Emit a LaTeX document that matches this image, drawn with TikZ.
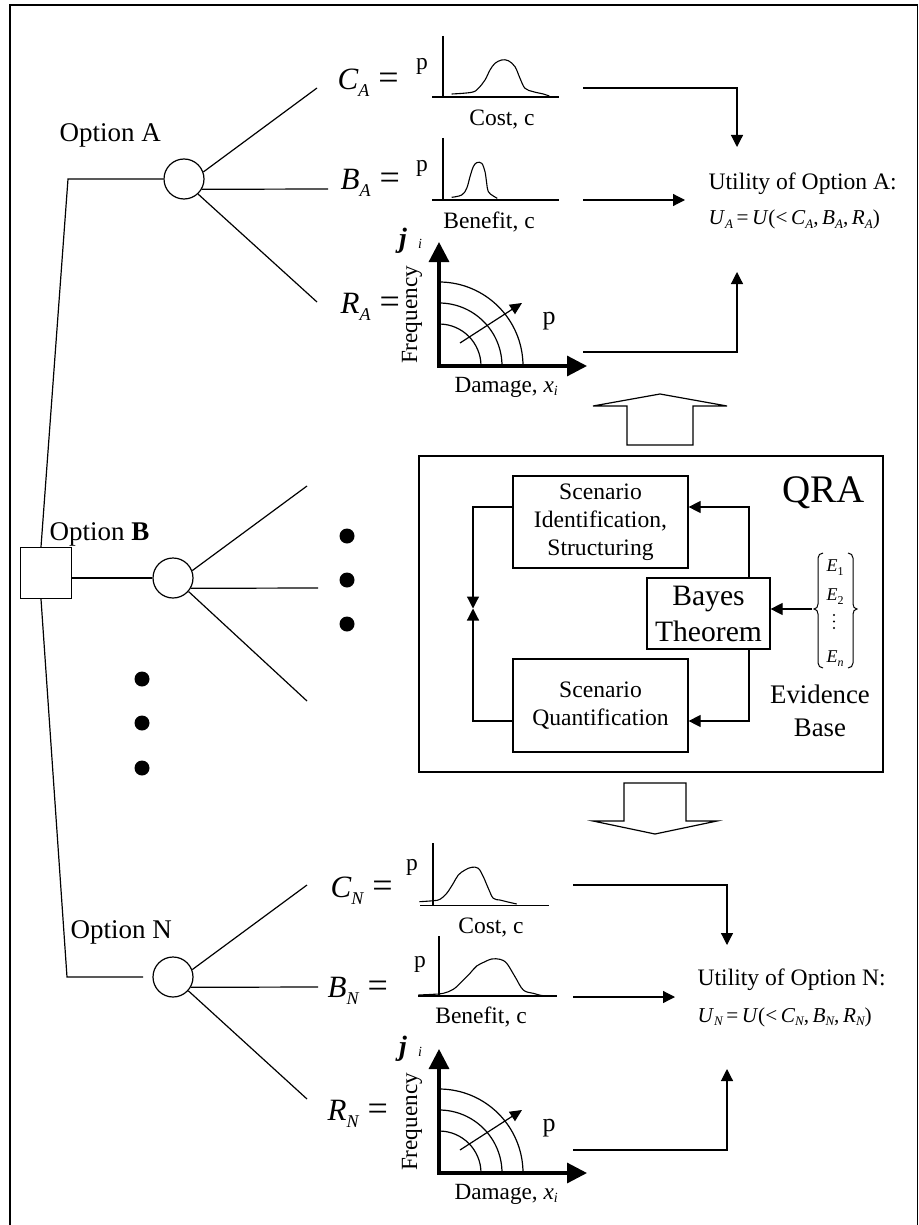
\documentclass[tikz,border=0pt]{standalone}
\usepackage{fontspec}
\setmainfont{Liberation Serif}
\usetikzlibrary{arrows.meta}
\newcommand\ssb[2]{\raisebox{-0.35ex}{\fontsize{#1}{#1}\selectfont\itshape #2}}
\newcommand\eqlab[2]{{\fontsize{15.5}{15.5}\selectfont\itshape #1}\raisebox{-3.5pt}{\fontsize{9}{9}\selectfont\itshape #2}\hspace{4.5pt}{\fontsize{18}{18}\selectfont =}}
\newcommand\ufor[1]{\textit{U}\ssb{6.5}{#1}\,=\,\textit{U}(<\,\textit{C}\ssb{6.5}{#1},\,\textit{B}\ssb{6.5}{#1},\,\textit{R}\ssb{6.5}{#1})}
\newcommand\evsub[1]{\raisebox{-2pt}{\fontsize{6}{6}\selectfont #1}}
\newcommand\riskgraph[3]{%
\begin{scope}[shift={(#2,#3)}]
 \coordinate (#1o) at (0,0);
 \coordinate (#1y) at (0,-124);
 \coordinate (#1x) at (148,0);
 \draw (42,0) arc[start angle=0,end angle=90,radius=21pt];
 \draw (63,0) arc[start angle=0,end angle=90,radius=31.5pt];
 \draw (84,0) arc[start angle=0,end angle=90,radius=42pt];
 \coordinate (#1a) at (21,-23);
 \coordinate (#1b) at (83,-63);
 \draw[-{Triangle[length=6pt,width=5.5pt]}] (#1a) -- (#1b);
 \draw[axisarr] ([yshift=-0.8pt]#1o) -- (#1y);
 \draw[axisarr] ([xshift=-0.8pt]#1o) -- (#1x);
 \node[anchor=base,inner sep=0pt,font=\fontsize{13}{13}\selectfont] (#1p) at (110,-42) {p};
 \node[rotate=90,anchor=base,inner sep=0pt,font=\fontsize{11.6}{13}\selectfont] (#1f) at (-22,-51) {Frequency};
 \node[anchor=base west,inner sep=0pt,font=\fontsize{11.6}{14}\selectfont] (#1d) at (15,26) {Damage, \textit{x}\ssb{7}{i}};
 \node[anchor=base,inner sep=0pt,font=\fontsize{14}{14}\selectfont\bfseries\itshape] (#1j) at (-36,-118) {j};
 \node[anchor=base,inner sep=0pt,font=\fontsize{7}{7}\selectfont\itshape] (#1i) at (-19,-117) {i};
\end{scope}}
\begin{document}
\begin{tikzpicture}[x=0.5pt,y=-0.5pt,line width=0.6pt,
  arr/.style={-{Triangle[length=6pt,width=6pt]}},
  axisarr/.style={line width=1.6pt,-{Triangle[length=10pt,width=10pt]}},
  chance/.style={circle,draw,fill=white,minimum size=20pt,inner sep=0pt},
  decision/.style={rectangle,draw,fill=white,minimum size=25.5pt,inner sep=0pt},
  bigdot/.style={circle,fill,minimum size=7.5pt,inner sep=0pt},
  tinydot/.style={circle,fill,minimum size=1.1pt,inner sep=0pt},
  optlbl/.style={inner sep=0pt,anchor=base west,font=\fontsize{13.5}{16}\selectfont},
  eqlbl/.style={inner sep=0pt,anchor=base west},
  smalltxt/.style={inner sep=0pt,anchor=base,font=\fontsize{11.75}{14}\selectfont},
  utxt/.style={inner sep=0pt,anchor=base west,font=\fontsize{11.8}{14}\selectfont},
  ftxt/.style={inner sep=0pt,anchor=base west,font=\fontsize{10.6}{12}\selectfont},
  etxt/.style={inner sep=0pt,anchor=base,font=\fontsize{9}{9}\selectfont},
  qbox/.style={draw,inner sep=0pt,align=center,font=\fontsize{11.8}{14}\selectfont},
  curve/.style={line width=0.55pt}]
\useasboundingbox (0,0) rectangle (919,1225);
\draw (10,1226) -- (10,5) -- (917.5,5) -- (917.5,1226);

% ---------- decision tree ----------
\coordinate (kA) at (68,179);
\coordinate (kN) at (67,977);
\coordinate (eN) at (143,977);
\node[decision] (sq) at (46,573) {};
\node[chance] (cA) at (184,179) {};
\node[chance] (cB) at (173,578) {};
\node[chance] (cN) at (173,977) {};
\draw ([xshift=-2.5pt]sq.north) -- (kA) -- (cA.west);
\draw (sq.east |- cB) -- (cB.west);
\draw ([xshift=-2.5pt]sq.south) -- (kN) -- (eN);

\coordinate (a1) at (317,88);  \coordinate (a2) at (328,189); \coordinate (a3) at (317,302);
\coordinate (b1) at (307,486); \coordinate (b2) at (318,588); \coordinate (b3) at (307,701);
\coordinate (n1) at (307,885); \coordinate (n2) at (318,987); \coordinate (n3) at (307,1099);
\draw (cA.20) -- (a1); \draw (cA.-30) -- (a2); \draw (cA.-47) -- (a3);
\draw (cB.21) -- (b1); \draw (cB.-30) -- (b2); \draw (cB.-41) -- (b3);
\draw (cN.21) -- (n1); \draw (cN.-30) -- (n2); \draw (cN.-42) -- (n3);

\node[bigdot] (d1) at (347,536) {};
\node[bigdot] (d2) at (347,580) {};
\node[bigdot] (d3) at (347,624) {};
\node[bigdot] (d4) at (142,679) {};
\node[bigdot] (d5) at (142,723) {};
\node[bigdot] (d6) at (142,768) {};

\node[optlbl] (oA) at (59,142) {Option A};
\node[optlbl] (oB) at (49,540) {Option \textbf{B}};
\node[optlbl] (oN) at (70,938) {Option N};

\node[eqlbl] (lCA) at (337,90) {\eqlab{C}{A}};
\node[eqlbl] (lBA) at (340,190) {\eqlab{B}{A}};
\node[eqlbl] (lRA) at (340,313) {\eqlab{R}{A}};
\node[eqlbl] (lCN) at (330,897) {\eqlab{C}{N}};
\node[eqlbl] (lBN) at (327,997) {\eqlab{B}{N}};
\node[eqlbl] (lRN) at (327,1120) {\eqlab{R}{N}};

% ---------- distributions, option A ----------
\draw (443,36) -- (443,97); \draw (432,97) -- (559,97);
\draw[curve] plot[smooth,tension=0.6] coordinates {(451.7,94) (471.7,92.3) (478.3,88.3) (485,80) (490,70) (495,63.3) (501.7,60) (508.3,60.7) (515,66.7) (520,78.3) (525,88.3) (533.3,91.7) (543.3,94) (549.3,96)};
\node[smalltxt] (pCA) at (422,70) {p};
\node[smalltxt] (xCA) at (502,126) {Cost, c};
\draw (443,138) -- (443,200); \draw (432,200) -- (559,200);
\draw[curve] plot[smooth,tension=0.6] coordinates {(451.7,197.3) (461.7,195) (466.7,188.3) (470,176.7) (473.3,166.7) (476.7,162.7) (481.7,163.3) (485,171.7) (486.7,183.3) (488.3,191.7) (493.3,196) (497.3,198.3)};
\node[smalltxt] (pBA) at (422,172) {p};
\node[smalltxt] (xBA) at (489,228) {Benefit, c};
\riskgraph{rA}{439}{366}

% ---------- distributions, option N ----------
\draw (433,843) -- (433,906); \draw (420,905.5) -- (549,905.5);
\draw[curve] plot[smooth,tension=0.6] coordinates {(419.3,901.7) (433.3,900.7) (440,899.3) (446.7,893.3) (453.3,883.3) (458.3,875) (465,870) (471.7,867.3) (478.3,868.3) (483.3,876.7) (488.3,888.3) (493.3,898.3) (500,900) (506.7,901.7) (516.7,904)};
\node[smalltxt] (pCN) at (412,870) {p};
\node[smalltxt] (xCN) at (491,933) {Cost, c};
\draw (439,936) -- (439,996); \draw (418,996) -- (557,996);
\draw[curve] plot[smooth,tension=0.6] coordinates {(418.3,995) (433.3,994.3) (443.3,993.3) (453.3,989.3) (461.7,981.7) (470,973.3) (476.7,966) (485,961.7) (491.7,959) (500,959.3) (506.7,963.3) (515,976.7) (523.3,990) (533.3,993.3) (543.3,995.7) (556.7,996)};
\node[smalltxt] (pBN) at (420,967) {p};
\node[smalltxt] (xBN) at (481,1023) {Benefit, c};
\riskgraph{rN}{439}{1173}

% ---------- utilities ----------
\node[utxt] (uA) at (708,190) {Utility of Option A:};
\node[ftxt] (fA) at (708,225) {\ufor{A}};
\node[utxt] (uN) at (697,985) {Utility of Option N:};
\node[ftxt] (fN) at (697,1022) {\ufor{N}};

\coordinate (ca0) at (583,88);  \coordinate (ca1) at (737,88);  \coordinate (ca2) at (737,147);
\coordinate (ba0) at (583,200); \coordinate (ba1) at (685,200);
\coordinate (ra0) at (583,352); \coordinate (ra1) at (737,352); \coordinate (ra2) at (737,272);
\draw[arr] (ca0) -- (ca1) -- (ca2);
\draw[arr] (ba0) -- (ba1);
\draw[arr] (ra0) -- (ra1) -- (ra2);
\coordinate (cn0) at (573,885);  \coordinate (cn1) at (727,885);  \coordinate (cn2) at (727,945);
\coordinate (bn0) at (573,997);  \coordinate (bn1) at (675,997);
\coordinate (rn0) at (573,1150); \coordinate (rn1) at (727,1150); \coordinate (rn2) at (727,1069);
\draw[arr] (cn0) -- (cn1) -- (cn2);
\draw[arr] (bn0) -- (bn1);
\draw[arr] (rn0) -- (rn1) -- (rn2);

% ---------- block arrows ----------
\draw (627,445) -- (627,406) -- (593,406) -- (660,394) -- (727,406) -- (693,406) -- (693,445) -- cycle;
\draw (624,783) -- (686,783) -- (686,821) -- (717,821) -- (655,834) -- (593,821) -- (624,821) -- cycle;

% ---------- QRA ----------
\node[draw,inner sep=0pt,minimum width=232pt,minimum height=158pt] (qra) at (651,614) {};
\node[anchor=base west,inner sep=0pt,font=\fontsize{19.5}{20}\selectfont] (qralbl) at (782,502) {QRA};
\node[qbox,minimum width=87.5pt,minimum height=46pt] (ident) at (600.5,522) {Scenario\\Identification,\\Structuring};
\node[qbox,minimum width=87.5pt,minimum height=46.5pt] (quant) at (600.5,705.5) {Scenario\\Quantification};
\node[draw,inner sep=0pt,minimum width=61.5pt,minimum height=35.5pt,align=center,font=\fontsize{14.8}{18}\selectfont] (bayes) at (708.5,613.5) {Bayes\\Theorem};

\coordinate (L1) at (473,507); \coordinate (L2) at (473,608.5); \coordinate (L3) at (473,721);
\draw[arr] (ident.west |- L1) -- (L1) -- (L2);
\draw[arr] (quant.west |- L3) -- (L3) -- (L2);
\coordinate (R1) at (749,507); \coordinate (R3) at (749,721);
\draw[arr] (bayes.north -| R1) -- (R1) -- (ident.east |- R1);
\draw[arr] (bayes.south -| R1) -- (R3) -- (quant.east |- R3);

% evidence vector
\node[etxt] (e1) at (835,571) {\textit{E}\evsub{1}};
\node[etxt] (e2) at (835,600) {\textit{E}\evsub{2}};
\node[tinydot] (v1) at (834,615) {};
\node[tinydot] (v2) at (834,621.5) {};
\node[tinydot] (v3) at (834,628) {};
\node[etxt] (en) at (835,662) {\textit{E}\evsub{\textit{n}}};
\draw[line width=0.5pt] (823,553) to[out=180,in=90] (818,558) -- (818,604) to[out=-90,in=0] (814,609)
   to[out=0,in=90] (818,614) -- (818,663) to[out=-90,in=180] (823,668);
\draw[line width=0.5pt] (848,553) to[out=0,in=90] (853,558) -- (853,604) to[out=-90,in=180] (857,609)
   to[out=180,in=90] (853,614) -- (853,663) to[out=-90,in=0] (848,668);
\coordinate (Ev) at (812,609);
\draw[arr] (Ev) -- (bayes.east |- Ev);
\node[align=center,inner sep=0pt,font=\fontsize{13.4}{16.5}\selectfont] (evb) at (820,711) {Evidence\\Base};
\end{tikzpicture}
\end{document}
